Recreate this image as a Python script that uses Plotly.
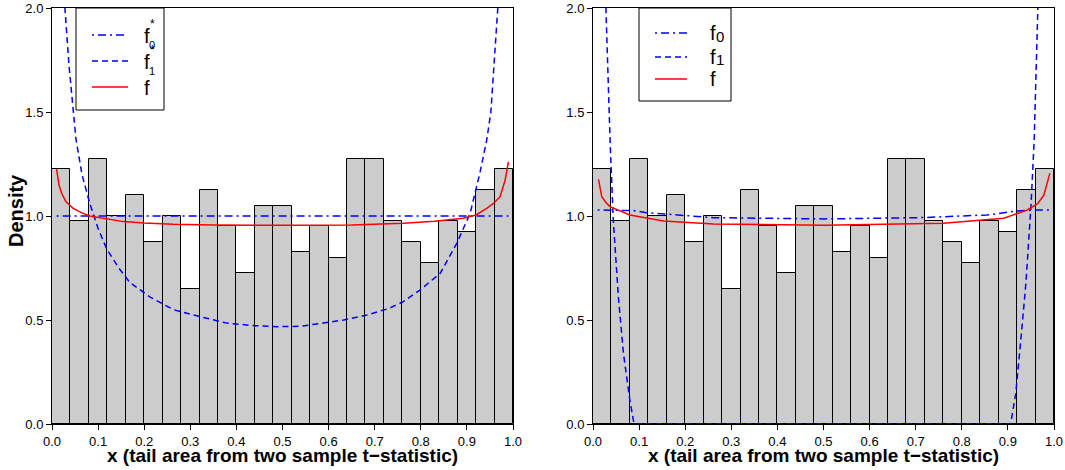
import plotly.graph_objects as go

# ---------------- data ----------------
bin_edges = [0.00, 0.04, 0.08, 0.12, 0.16, 0.20, 0.24, 0.28, 0.32, 0.36, 0.40, 0.44, 0.48,
             0.52, 0.56, 0.60, 0.64, 0.68, 0.72, 0.76, 0.80, 0.84, 0.88, 0.92, 0.96, 1.00]
density = [1.225, 0.975, 1.275, 1.000, 1.100, 0.875, 1.000, 0.650, 1.125, 0.950, 0.725, 1.050, 1.050,
           0.825, 0.950, 0.800, 1.275, 1.275, 0.975, 0.875, 0.775, 0.975, 0.925, 1.125, 1.225]

# left panel curves
f0s_x = [0.01, 0.99]
f0s_y = [1.0, 1.0]
f1s_x = [0.026, 0.028, 0.037, 0.046, 0.052, 0.065, 0.082, 0.100, 0.119, 0.145, 0.169, 0.213, 0.263, 0.314,
         0.379, 0.437, 0.490, 0.540, 0.581, 0.633, 0.683, 0.730, 0.762, 0.798, 0.842, 0.878, 0.907,
         0.928, 0.943, 0.952, 0.967, 0.970]
f1s_y = [2.10, 2.00, 1.72, 1.50, 1.37, 1.20, 1.06, 0.94, 0.84, 0.75, 0.68, 0.61, 0.55, 0.52,
         0.485, 0.473, 0.468, 0.470, 0.482, 0.500, 0.524, 0.555, 0.588, 0.644, 0.724, 0.869, 1.013,
         1.205, 1.365, 1.50, 2.00, 2.10]
fL_x = [0.010, 0.015, 0.021, 0.030, 0.046, 0.065, 0.082, 0.120, 0.155, 0.200, 0.263, 0.350, 0.509,
        0.650, 0.762, 0.830, 0.892, 0.920, 0.943, 0.960, 0.972, 0.983, 0.990]
fL_y = [1.225, 1.150, 1.109, 1.070, 1.037, 1.015, 1.000, 0.985, 0.973, 0.966, 0.960, 0.957, 0.955,
        0.957, 0.965, 0.975, 0.989, 1.005, 1.037, 1.065, 1.093, 1.173, 1.260]

# right panel curves
f0_x = [0.010, 0.060, 0.088, 0.116, 0.153, 0.262, 0.500, 0.710, 0.855, 0.920, 0.964, 0.990]
f0_y = [1.029, 1.029, 1.026, 1.016, 1.010, 0.992, 0.986, 0.992, 1.005, 1.024, 1.029, 1.029]
f1_x = [0.026, 0.028, 0.037, 0.044, 0.055, 0.066, 0.080, 0.089, 0.906, 0.917, 0.928, 0.939, 0.950,
        0.957, 0.965, 0.967]
f1_y = [2.10, 2.00, 1.365, 0.98, 0.612, 0.34, 0.115, 0.0, 0.0, 0.147, 0.404, 0.676, 1.045,
        1.365, 2.00, 2.10]
fR_x = [0.012, 0.019, 0.028, 0.037, 0.080, 0.153, 0.262, 0.500, 0.760, 0.891, 0.942, 0.965, 0.978, 0.991]
fR_y = [1.176, 1.093, 1.065, 1.045, 1.005, 0.976, 0.962, 0.955, 0.965, 0.989, 1.029, 1.060, 1.100, 1.205]

x_ticks = [0.0, 0.1, 0.2, 0.3, 0.4, 0.5, 0.6, 0.7, 0.8, 0.9, 1.0]
x_tick_labels = ["0.0", "0.1", "0.2", "0.3", "0.4", "0.5", "0.6", "0.7", "0.8", "0.9", "1.0"]
y_ticks = [0.0, 0.5, 1.0, 1.5, 2.0]
y_tick_labels = ["0.0", "0.5", "1.0", "1.5", "2.0"]

x_title = "x (tail area from two sample t\u2212statistic)"
y_title = "Density"

# ---------------- figure ----------------
W, H = 1065, 470
FONT = "Liberation Sans, Arial, sans-serif"
BLUE = "#0000FF"
RED = "#FF0000"
DASH = "6px,4px"
DASHDOT = "2px,4px,8px,4px"


def px(x):
    return x / W


def py(y):
    return 1 - y / H


centers = [(bin_edges[i] + bin_edges[i + 1]) / 2 for i in range(len(density))]
widths = [bin_edges[i + 1] - bin_edges[i] for i in range(len(density))]

fig = go.Figure()
for xa, ya in (("x", "y"), ("x2", "y2")):
    fig.add_trace(go.Bar(x=centers, y=density, width=widths, xaxis=xa, yaxis=ya,
                         marker=dict(color="#CCCCCC", line=dict(color="black", width=1)),
                         showlegend=False, hoverinfo="skip"))

fig.add_trace(go.Scatter(x=f0s_x, y=f0s_y, mode="lines", xaxis="x", yaxis="y",
                         line=dict(color=BLUE, width=1.5, dash=DASHDOT), showlegend=False))
fig.add_trace(go.Scatter(x=f1s_x, y=f1s_y, mode="lines", xaxis="x", yaxis="y",
                         line=dict(color=BLUE, width=1.5, dash=DASH), showlegend=False))
fig.add_trace(go.Scatter(x=fL_x, y=fL_y, mode="lines", xaxis="x", yaxis="y",
                         line=dict(color=RED, width=1.5), showlegend=False))

fig.add_trace(go.Scatter(x=f0_x, y=f0_y, mode="lines", xaxis="x2", yaxis="y2",
                         line=dict(color=BLUE, width=1.5, dash=DASHDOT), showlegend=False))
fig.add_trace(go.Scatter(x=f1_x, y=f1_y, mode="lines", xaxis="x2", yaxis="y2",
                         line=dict(color=BLUE, width=1.5, dash=DASH), showlegend=False))
fig.add_trace(go.Scatter(x=fR_x, y=fR_y, mode="lines", xaxis="x2", yaxis="y2",
                         line=dict(color=RED, width=1.5), showlegend=False))

ydom = [py(424), py(8)]
axis_common = dict(range=[0, 1], tickmode="array", tickvals=x_ticks, ticktext=x_tick_labels,
                   showgrid=False, zeroline=False, showline=True, linecolor="black", linewidth=1,
                   mirror=True, ticks="outside", ticklen=5, tickcolor="black", automargin=False,
                   tickfont=dict(family=FONT, size=13, color="black"))
yaxis_common = dict(range=[0, 2], tickmode="array", tickvals=y_ticks, ticktext=y_tick_labels,
                    showgrid=False, zeroline=False, showline=True, linecolor="black", linewidth=1,
                    mirror=True, ticks="outside", ticklen=5, tickcolor="black", automargin=False,
                    tickfont=dict(family=FONT, size=13, color="black"), domain=ydom)

fig.update_layout(
    width=W, height=H, autosize=False, margin=dict(l=0, r=0, t=0, b=0, pad=0, autoexpand=False),
    paper_bgcolor="white", plot_bgcolor="white", bargap=0,
    font=dict(family=FONT, color="black"),
    xaxis=dict(domain=[px(52), px(513)], anchor="y", **axis_common),
    yaxis=dict(anchor="x", **yaxis_common),
    xaxis2=dict(domain=[px(593), px(1054)], anchor="y2", **axis_common),
    yaxis2=dict(anchor="x2", **yaxis_common),
)

shapes = []
annotations = []

# axis titles
for cx in (282, 823):
    annotations.append(dict(text="<b>" + x_title + "</b>", x=px(cx), y=py(455), xref="paper", yref="paper",
                            showarrow=False, font=dict(size=19, family=FONT), xanchor="center",
                            yanchor="middle"))
annotations.append(dict(text="<b>" + y_title + "</b>", x=px(16), y=py(211), xref="paper", yref="paper",
                        showarrow=False, font=dict(size=20, family=FONT), textangle=-90,
                        xanchor="center", yanchor="middle"))

# left legend (manual, R-style stacked sub/superscripts)
shapes.append(dict(type="rect", xref="paper", yref="paper", x0=px(76), x1=px(164), y0=py(110), y1=py(8),
                   line=dict(color="black", width=1), fillcolor="white", layer="above"))
leg_rows_L = [(35, BLUE, DASHDOT), (61, BLUE, DASH), (87, RED, "solid")]
for yrow, col, dsh in leg_rows_L:
    shapes.append(dict(type="line", xref="paper", yref="paper", x0=px(92), x1=px(128), y0=py(yrow), y1=py(yrow),
                       line=dict(color=col, width=1.5, dash=dsh), layer="above"))
for yrow in (36, 62, 88):
    annotations.append(dict(text="f", x=px(147), y=py(yrow), xref="paper", yref="paper", showarrow=False,
                            font=dict(size=20, family=FONT), xanchor="center", yanchor="middle"))
for sup_y, sub_y, sub in ((24, 45, "0"), (50, 71, "1")):
    annotations.append(dict(text="*", x=px(152), y=py(sup_y), xref="paper", yref="paper", showarrow=False,
                            font=dict(size=12, family=FONT), xanchor="center", yanchor="middle"))
    annotations.append(dict(text=sub, x=px(152), y=py(sub_y), xref="paper", yref="paper", showarrow=False,
                            font=dict(size=11, family=FONT), xanchor="center", yanchor="middle"))

# right legend
shapes.append(dict(type="rect", xref="paper", yref="paper", x0=px(639), x1=px(731), y0=py(101), y1=py(8),
                   line=dict(color="black", width=1), fillcolor="white", layer="above"))
leg_rows_R = [(33, BLUE, DASHDOT, "f", "0"), (57, BLUE, DASH, "f", "1"), (79, RED, "solid", "f", "")]
for yrow, col, dsh, main, sub in leg_rows_R:
    shapes.append(dict(type="line", xref="paper", yref="paper", x0=px(655), x1=px(687), y0=py(yrow), y1=py(yrow),
                       line=dict(color=col, width=1.5, dash=dsh), layer="above"))
    annotations.append(dict(text=main, x=px(708), y=py(yrow), xref="paper", yref="paper", showarrow=False,
                            font=dict(size=20, family=FONT), xanchor="left", yanchor="middle"))
    if sub:
        annotations.append(dict(text=sub, x=px(714), y=py(yrow + 3), xref="paper", yref="paper",
                                showarrow=False, font=dict(size=15, family=FONT), xanchor="left",
                                yanchor="middle"))

fig.update_layout(shapes=shapes, annotations=annotations)

post = ("document.documentElement.style.margin='0';document.body.style.margin='0';"
        "document.body.style.padding='0';"
        "var gd=document.getElementById('{plot_id}');"
        "Plotly.relayout(gd,{width:%d,height:%d});" % (W, H))
fig.write_html("out.html", config={"responsive": False}, post_script=post)
